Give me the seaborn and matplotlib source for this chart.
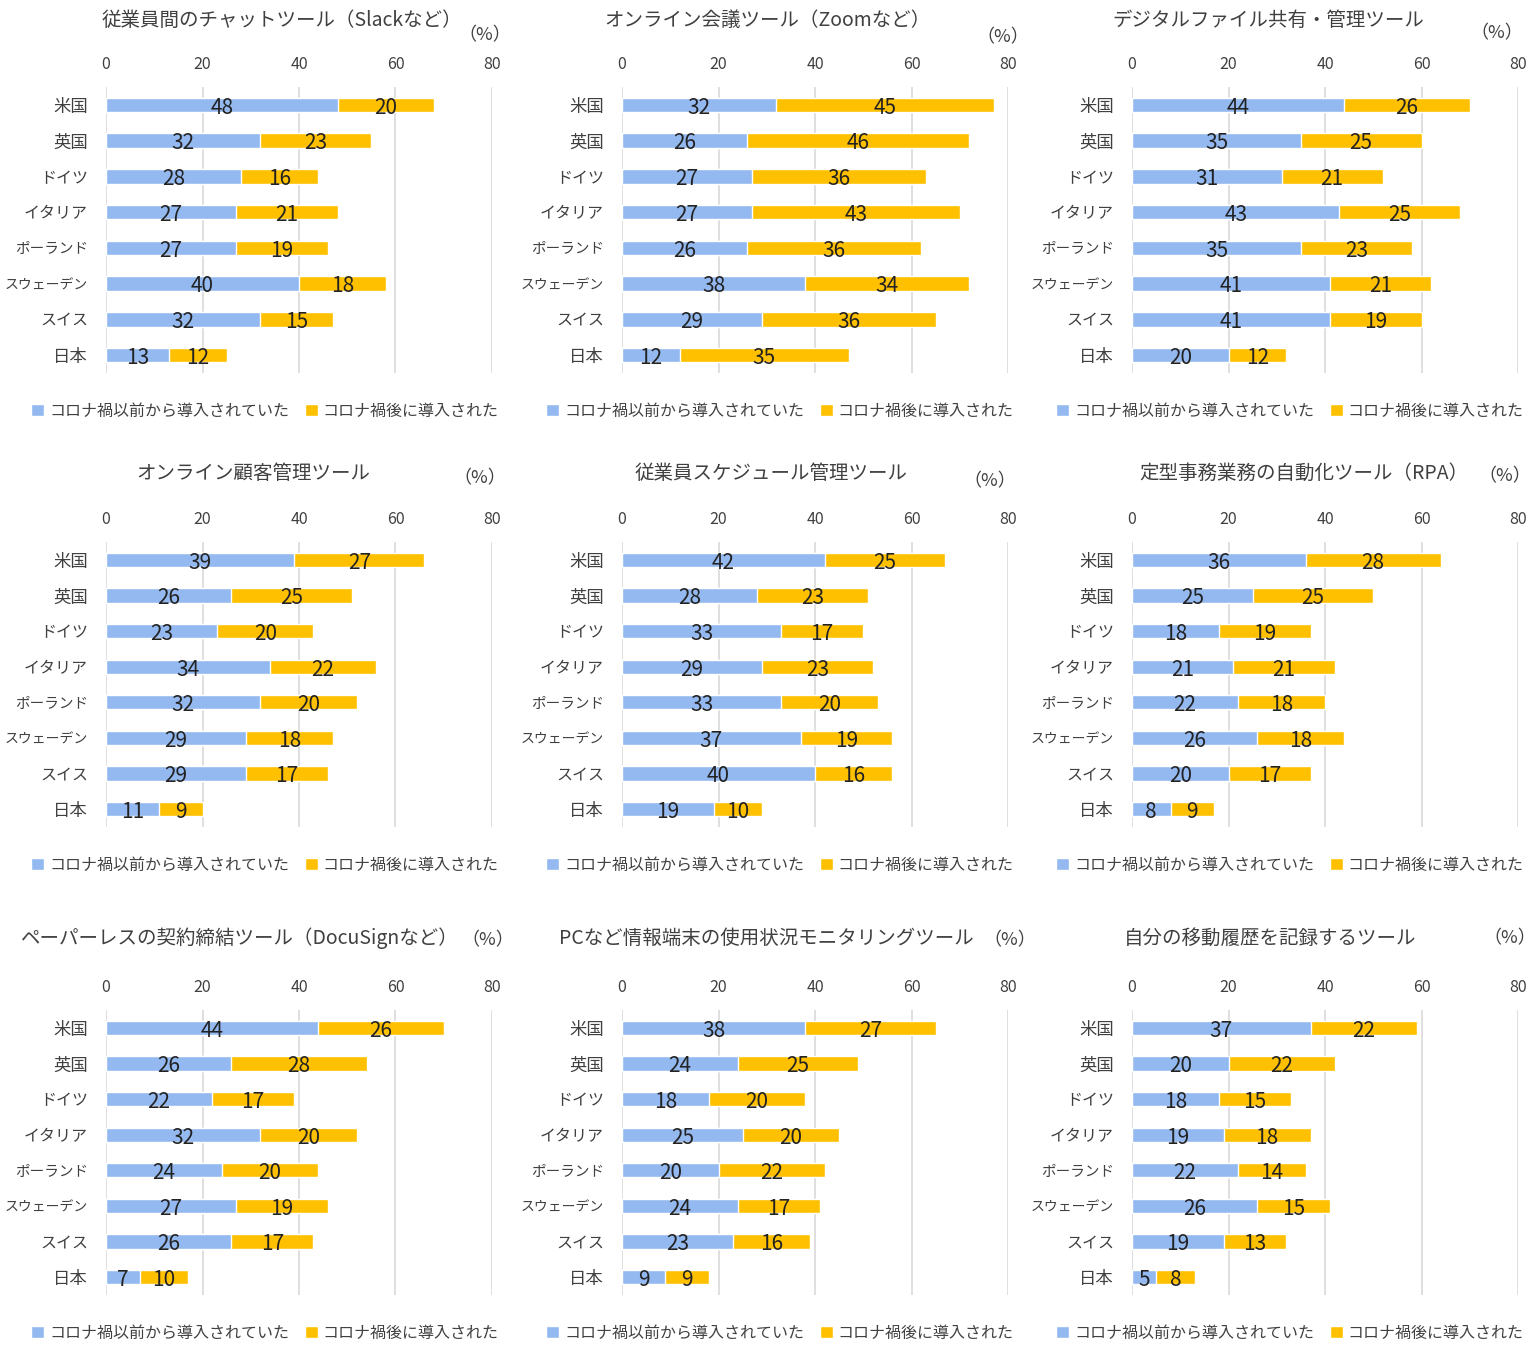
import numpy as np
import pandas as pd
import matplotlib
matplotlib.use("Agg")
import matplotlib.pyplot as plt
import seaborn as sns
from matplotlib.patches import Patch

sns.set_style("white")
plt.rcParams['font.family'] = ['Noto Sans CJK JP', 'DejaVu Sans']

# データ
countries = ['米国', '英国', 'ドイツ', 'イタリア', 'ポーランド', 'スウェーデン', 'スイス', '日本']
series_names = ['コロナ禍以前から導入されていた', 'コロナ禍後に導入された']

titles = [
    '従業員間のチャットツール（Slackなど）',
    'オンライン会議ツール（Zoomなど）',
    'デジタルファイル共有・管理ツール',
    'オンライン顧客管理ツール',
    '従業員スケジュール管理ツール',
    '定型事務業務の自動化ツール（RPA）',
    'ペーパーレスの契約締結ツール（DocuSignなど）',
    'PCなど情報端末の使用状況モニタリングツール',
    '自分の移動履歴を記録するツール',
]

before = [
    [48, 32, 28, 27, 27, 40, 32, 13],
    [32, 26, 27, 27, 26, 38, 29, 12],
    [44, 35, 31, 43, 35, 41, 41, 20],
    [39, 26, 23, 34, 32, 29, 29, 11],
    [42, 28, 33, 29, 33, 37, 40, 19],
    [36, 25, 18, 21, 22, 26, 20, 8],
    [44, 26, 22, 32, 24, 27, 26, 7],
    [38, 24, 18, 25, 20, 24, 23, 9],
    [37, 20, 18, 19, 22, 26, 19, 5],
]
after = [
    [20, 23, 16, 21, 19, 18, 15, 12],
    [45, 46, 36, 43, 36, 34, 36, 35],
    [26, 25, 21, 25, 23, 21, 19, 12],
    [27, 25, 20, 22, 20, 18, 17, 9],
    [25, 23, 17, 23, 20, 19, 16, 10],
    [28, 25, 19, 21, 18, 18, 17, 9],
    [26, 28, 17, 20, 20, 19, 17, 10],
    [27, 25, 20, 20, 22, 17, 16, 9],
    [22, 22, 15, 18, 14, 15, 13, 8],
]
xticks = [0, 20, 40, 60, 80]

BLUE = '#93B9F0'
ORANGE = '#FFC000'
GRID = '#D9D9D9'
TXT = '#404040'

W, H = 1537, 1349
fig = plt.figure(figsize=(W / 100, H / 100), dpi=100)

# レイアウト (ピクセル)
col_x0 = [106, 622, 1132]
ax_w = 386
row_y = [(87, 373), (542, 827), (1010, 1295)]
title_y = [20, 473, 938]
title_x = [[282, 767, 1268], [253, 771, 1304], [240, 766, 1270]]
pct_pos = [[(485, 35), (1003, 37), (1497, 33)],
           [(480, 478), (990, 481), (1505, 476)],
           [(488, 940), (1010, 940), (1510, 938)]]
legend_y = [411, 865, 1333]
legend_x = [265, 780, 1290]


def fx(px):
    return px / W


def fy(py):
    return 1 - py / H


for i in range(9):
    r, c = divmod(i, 3)
    y0, y1 = row_y[r]
    ax = fig.add_axes([fx(col_x0[c]), fy(y1), ax_w / W, (y1 - y0) / H])

    df = pd.DataFrame({'国': countries, 'before': before[i], 'after': after[i]})
    df['total'] = df['before'] + df['after']

    sns.barplot(data=df, x='total', y='国', color=ORANGE, width=0.4,
                saturation=1, ax=ax, order=countries)
    sns.barplot(data=df, x='before', y='国', color=BLUE, width=0.4,
                saturation=1, ax=ax, order=countries)

    for j, row in df.iterrows():
        ax.text(row['before'] / 2, j + 0.08, str(row['before']), ha='center',
                va='center', fontsize=15, color='#222222')
        ax.text(row['before'] + row['after'] / 2, j + 0.08, str(row['after']),
                ha='center', va='center', fontsize=15, color='#222222')

    ax.set_xlim(0, 80)
    ax.set_ylim(7.5, -0.5)
    ax.set_xticks(xticks)
    ax.xaxis.tick_top()
    ax.tick_params(axis='x', length=0, pad=10, labelsize=11.5, labelcolor=TXT)
    ax.tick_params(axis='y', length=0, pad=13, labelsize=12.5, labelcolor=TXT)
    # 長い国名は少し小さく
    for lab in ax.get_yticklabels():
        n = len(lab.get_text())
        if n >= 6:
            lab.set_fontsize(10)
        elif n == 5:
            lab.set_fontsize(10.5)
        elif n >= 3:
            lab.set_fontsize(11.5)
    ax.grid(axis='x', color=GRID, linewidth=1.2)
    ax.set_axisbelow(True)
    for s in ax.spines.values():
        s.set_visible(False)
    ax.set_xlabel('')
    ax.set_ylabel('')

    fig.text(fx(title_x[r][c]), fy(title_y[r]), titles[i], ha='center',
             va='center', fontsize=14, color=TXT)
    px, py = pct_pos[r][c]
    fig.text(fx(px), fy(py), '（%）', ha='center', va='center', fontsize=13,
             color=TXT)

    handles = [Patch(facecolor=BLUE, label=series_names[0]),
               Patch(facecolor=ORANGE, label=series_names[1])]
    fig.legend(handles=handles, loc='center',
               bbox_to_anchor=(fx(legend_x[c]), fy(legend_y[r])), ncol=2,
               frameon=False, fontsize=11.5, handlelength=0.8,
               handleheight=0.8, handletextpad=0.3, columnspacing=1.0,
               labelcolor=TXT)

fig.savefig('out.png', dpi=100)
